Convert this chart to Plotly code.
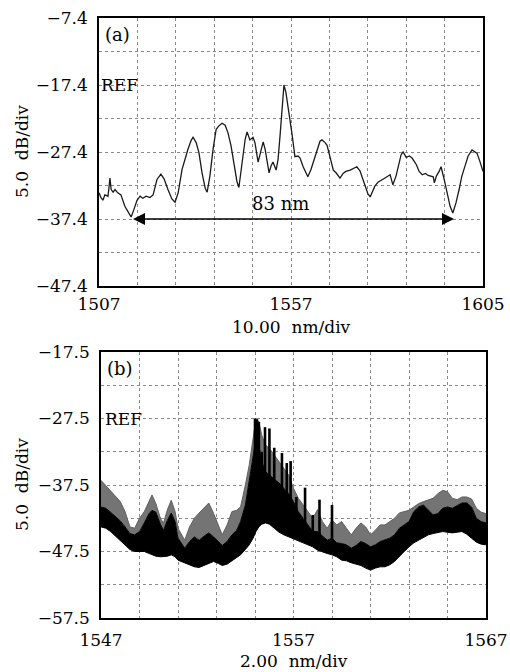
import plotly.graph_objects as go

# ---------------- Panel (a) data: wavelength (nm) and power (dB) ----------------
wl_a = [1507.0, 1507.5, 1508.0, 1508.5, 1509.3, 1509.8, 1510.1, 1510.6, 1511.1, 1511.8,
        1512.6, 1513.6, 1514.7, 1515.2, 1515.9, 1516.7, 1517.5, 1518.2, 1519.0, 1520.0,
        1520.8, 1521.8, 1522.8, 1523.6, 1524.6, 1525.6, 1526.4, 1527.2, 1528.2, 1528.9,
        1529.7, 1530.5, 1531.0, 1531.8, 1532.5, 1533.3, 1534.1, 1534.6, 1535.3, 1536.1,
        1536.9, 1537.6, 1538.4, 1539.2, 1539.9, 1540.7, 1541.5, 1542.2, 1542.7, 1543.5,
        1544.3, 1544.8, 1545.5, 1546.3, 1546.8, 1547.6, 1548.3, 1548.9, 1549.4, 1549.9,
        1550.4, 1550.9, 1551.4, 1552.2, 1552.7, 1553.2, 1553.7, 1554.2, 1554.7, 1555.2,
        1555.7, 1556.3, 1557.0, 1557.8, 1558.3, 1559.1, 1559.8, 1560.3, 1561.1, 1561.9,
        1562.6, 1563.4, 1563.9, 1564.7, 1565.2, 1566.0, 1566.8, 1567.5, 1568.0, 1568.5,
        1569.3, 1570.0, 1571.1, 1571.8, 1572.8, 1573.6, 1574.4, 1575.1, 1575.6, 1576.2,
        1576.7, 1577.4, 1578.2, 1579.2, 1580.2, 1581.3, 1582.0, 1582.8, 1583.6, 1584.1,
        1584.6, 1585.4, 1586.2, 1586.9, 1588.0, 1588.7, 1589.5, 1590.3, 1591.0, 1591.8,
        1592.3, 1592.6, 1593.1, 1593.8, 1594.3, 1595.1, 1595.8, 1596.6, 1597.3, 1598.1,
        1598.9, 1599.6, 1600.4, 1601.2, 1602.2, 1603.0, 1603.5, 1604.2, 1605.0]
db_a = [-33.5, -34.2, -34.6, -33.8, -34.0, -31.3, -33.0, -33.4, -33.0, -33.5,
        -33.8, -35.5, -36.6, -37.1, -36.0, -34.6, -34.0, -34.3, -34.0, -34.2,
        -33.8, -31.5, -30.7, -31.4, -33.0, -34.4, -34.9, -33.5, -30.0, -28.5,
        -27.0, -25.7, -25.2, -26.0, -27.5, -30.5, -32.8, -33.4, -31.0, -27.0,
        -24.0, -23.5, -23.1, -23.4, -24.5, -26.5, -29.5, -31.8, -32.7, -29.0,
        -25.5, -24.4, -25.6, -25.2, -26.0, -28.9, -27.0, -25.9, -27.0, -29.0,
        -30.5, -29.5, -28.9, -30.1, -28.5, -25.0, -21.0, -17.4, -18.5, -20.8,
        -22.5, -24.9, -28.1, -28.0, -28.3, -29.6, -30.6, -31.1, -30.0, -28.5,
        -27.0, -25.8, -25.6, -26.0, -26.4, -28.5, -30.1, -30.5, -31.0, -31.3,
        -30.6, -30.3, -30.1, -29.9, -29.6, -30.2, -31.5, -32.8, -33.6, -34.1,
        -33.4, -32.5, -31.9, -31.6, -31.2, -30.8, -32.3, -31.0, -29.0, -27.8,
        -27.4, -28.2, -28.0, -28.3, -29.3, -30.3, -30.8, -30.6, -30.9, -31.0,
        -31.1, -32.0, -31.0, -30.3, -29.6, -31.5, -33.5, -35.5, -36.5, -35.0,
        -33.0, -31.0, -29.5, -28.0, -27.1, -27.4, -27.6, -28.8, -30.3]

arrow_a = [1515.3, 1597.6]   # 83 nm span
arrow_level_a = -37.4

xgrid_a = [1507 + 9.8 * k for k in range(11)]
xtext_a = ["1507", "", "", "", "", "1557", "", "", "", "", "1605"]
ygrid_a = [-47.4, -42.4, -37.4, -32.4, -27.4, -22.4, -17.4, -12.4, -7.4]
ytext_a = ["\u221247.4", "", "\u221237.4", "", "\u221227.4", "", "\u221217.4", "", "\u22127.4"]

# ---------------- Panel (b) data ----------------
wl_b = [1547.00, 1547.25, 1547.50, 1547.75, 1548.00, 1548.25, 1548.50, 1548.75, 1549.00, 1549.25,
        1549.50, 1549.65, 1549.85, 1550.10, 1550.25, 1550.45, 1550.65, 1550.85, 1551.00, 1551.35,
        1551.60, 1551.85, 1552.10, 1552.35, 1552.60, 1552.85, 1553.10, 1553.30, 1553.55, 1553.80,
        1554.05, 1554.25, 1554.50, 1554.70, 1554.90, 1555.05, 1555.20, 1555.35, 1555.55, 1555.75,
        1556.00, 1556.25, 1556.50, 1556.75, 1557.00, 1557.25, 1557.50, 1557.75, 1558.00, 1558.25,
        1558.50, 1558.75, 1559.00, 1559.25, 1559.50, 1559.75, 1560.00, 1560.25, 1560.50, 1560.75,
        1561.00, 1561.25, 1561.50, 1561.75, 1562.00, 1562.25, 1562.50, 1562.75, 1563.00, 1563.25,
        1563.50, 1563.75, 1564.00, 1564.25, 1564.50, 1564.75, 1565.00, 1565.25, 1565.50, 1565.75,
        1566.00, 1566.25, 1566.50, 1566.75, 1567.00]
low_b = [-43.8, -44.0, -44.5, -45.2, -45.9, -46.5, -47.2, -47.5, -47.5, -47.5,
         -47.8, -48.0, -48.2, -48.3, -48.3, -48.2, -48.0, -48.3, -48.8, -49.2,
         -49.6, -49.8, -49.9, -49.6, -49.3, -49.0, -49.3, -49.6, -49.4, -48.9,
         -48.5, -48.0, -47.2, -46.5, -45.5, -44.5, -43.8, -43.4, -43.2, -43.4,
         -44.0, -44.6, -45.0, -45.3, -45.6, -45.9, -46.2, -46.5, -46.8, -47.3,
         -47.6, -47.8, -48.0, -48.3, -48.8, -48.9, -49.2, -49.4, -49.6, -50.0,
         -50.3, -50.0, -49.8, -49.8, -49.5, -49.0, -48.2, -47.5, -46.8, -46.2,
         -45.8, -45.4, -45.0, -44.8, -44.6, -44.5, -44.6, -44.7, -44.6, -44.5,
         -44.9, -45.5, -46.1, -46.4, -46.5]
core_b = [-40.8, -41.0, -41.6, -42.2, -42.9, -43.8, -44.8, -45.0, -44.5, -43.2,
          -41.8, -41.3, -41.6, -43.5, -44.3, -42.8, -41.7, -43.0, -45.5, -47.0,
          -46.0, -45.3, -45.8, -45.2, -44.7, -45.3, -46.0, -46.6, -46.0, -45.0,
          -44.3, -43.0, -40.5, -37.0, -33.5, -30.5, -31.5, -34.0, -35.5, -36.0,
          -36.5, -37.2, -38.0, -38.8, -40.0, -41.5, -42.5, -43.5, -44.5, -44.5,
          -45.2, -45.8, -45.5, -46.2, -46.3, -46.5, -47.0, -46.6, -46.0, -46.3,
          -46.8, -46.5, -46.0, -45.8, -45.5, -45.0, -44.0, -43.5, -43.0, -41.5,
          -40.8, -40.5, -41.3, -42.0, -41.8, -41.0, -40.8, -41.0, -40.6, -40.2,
          -40.2, -40.8, -42.5, -43.0, -43.2]
haze_b = [-36.8, -37.6, -38.4, -39.3, -40.0, -41.5, -43.8, -44.0, -42.5, -41.5,
          -39.8, -39.0, -40.3, -42.6, -43.2, -41.2, -39.8, -41.5, -44.0, -45.8,
          -43.8, -42.5, -41.7, -41.0, -40.2, -41.8, -43.5, -45.0, -43.5, -41.5,
          -41.3, -40.8, -37.5, -34.5, -30.5, -27.5, -28.0, -30.0, -31.5, -32.0,
          -33.0, -34.0, -35.0, -36.0, -38.0, -39.5, -40.5, -41.5, -42.5, -41.2,
          -43.0, -44.0, -42.8, -43.5, -43.0, -44.0, -45.0, -44.0, -43.2, -43.8,
          -45.0, -44.3, -43.5, -43.5, -43.0, -42.5, -41.7, -41.5, -41.3, -40.8,
          -40.3, -40.0, -39.8, -39.5, -38.8, -38.3, -38.5, -39.5, -39.7, -39.3,
          -39.3, -39.6, -41.0, -41.6, -41.8]

spike_wl = [1555.00, 1555.10, 1555.20, 1555.35, 1555.52, 1555.75, 1556.00, 1556.40,
            1556.65, 1556.85, 1557.15, 1557.60, 1558.00, 1558.35, 1559.00]
spike_top = [-27.5, -27.6, -28.0, -32.5, -28.8, -29.0, -31.9, -32.7,
             -34.2, -33.9, -39.3, -37.9, -42.0, -39.7, -40.5]
spike_base = [-43.0, -43.0, -43.0, -43.0, -43.0, -43.2, -43.6, -44.2,
              -44.8, -45.0, -45.6, -46.0, -46.5, -46.8, -47.5]

xgrid_b = [1547 + 2 * k for k in range(11)]
xtext_b = ["1547", "", "", "", "", "1557", "", "", "", "", "1567"]
ygrid_b = [-57.5, -52.5, -47.5, -42.5, -37.5, -32.5, -27.5, -22.5, -17.5]
ytext_b = ["\u221257.5", "", "\u221247.5", "", "\u221237.5", "", "\u221227.5", "", "\u221217.5"]

FONT = "DejaVu Serif"
FS = 17
W, H = 510, 672

fig = go.Figure()

# panel (a) trace
fig.add_trace(go.Scatter(x=wl_a, y=db_a, mode="lines", line=dict(color="#1a1a1a", width=1.3),
                         xaxis="x", yaxis="y", showlegend=False, hoverinfo="skip"))

# panel (b): lower envelope -> black core -> gray haze
fig.add_trace(go.Scatter(x=wl_b, y=low_b, mode="lines", line=dict(color="#000", width=1),
                         xaxis="x2", yaxis="y2", showlegend=False, hoverinfo="skip"))
fig.add_trace(go.Scatter(x=wl_b, y=core_b, mode="lines", line=dict(color="#000", width=1),
                         fill="tonexty", fillcolor="#000000",
                         xaxis="x2", yaxis="y2", showlegend=False, hoverinfo="skip"))
fig.add_trace(go.Scatter(x=wl_b, y=haze_b, mode="lines", line=dict(color="#606060", width=1),
                         fill="tonexty", fillcolor="#747474",
                         xaxis="x2", yaxis="y2", showlegend=False, hoverinfo="skip"))
sx, sy = [], []
for w, b, t in zip(spike_wl, spike_base, spike_top):
    sx += [w, w, None]
    sy += [b, t, None]
fig.add_trace(go.Scatter(x=sx, y=sy, mode="lines", line=dict(color="#000", width=2.6),
                         xaxis="x2", yaxis="y2", showlegend=False, hoverinfo="skip"))

axis_common = dict(showline=True, mirror=True, linecolor="#000", linewidth=1.5,
                   showgrid=True, gridcolor="#8a8a8a", griddash="dot", gridwidth=1,
                   ticks="", zeroline=False, tickmode="array", automargin=False,
                   tickfont=dict(family=FONT, size=FS, color="#000"))

fig.update_layout(
    template="none",
    width=W, height=H, margin=dict(l=0, r=0, t=0, b=0, autoexpand=False),
    paper_bgcolor="white", plot_bgcolor="white",
    xaxis=dict(domain=[99 / W, 483 / W], range=[1507, 1605], anchor="y",
               tickvals=xgrid_a, ticktext=xtext_a, ticklabelstandoff=2, **axis_common),
    yaxis=dict(domain=[1 - 286 / H, 1 - 18 / H], range=[-47.4, -7.4], anchor="x",
               tickvals=ygrid_a, ticktext=ytext_a, ticklabelstandoff=6, **axis_common),
    xaxis2=dict(domain=[101 / W, 486 / W], range=[1547, 1567], anchor="y2",
                tickvals=xgrid_b, ticktext=xtext_b, ticklabelstandoff=6, **axis_common),
    yaxis2=dict(domain=[1 - 618 / H, 1 - 352 / H], range=[-57.5, -17.5], anchor="x2",
                tickvals=ygrid_b, ticktext=ytext_b, ticklabelstandoff=6, **axis_common),
)

tf = dict(family=FONT, size=FS, color="#000")
tf2 = dict(family=FONT, size=18, color="#000")
ann = [
    dict(text="(a)", x=0.01, y=0.985, xref="x domain", yref="y domain", xanchor="left", yanchor="top", showarrow=False, font=tf2),
    dict(text="REF", x=0.0, y=-17.4, xref="x domain", yref="y", xanchor="left", yanchor="middle", showarrow=False, font=tf),
    dict(text="83 nm", x=(arrow_a[0] + arrow_a[1]) / 2, y=arrow_level_a, xref="x", yref="y", xanchor="center", yanchor="bottom", xshift=-12, yshift=3, showarrow=False, font=tf2),
    dict(text="(b)", x=0.01, y=0.985, xref="x2 domain", yref="y2 domain", xanchor="left", yanchor="top", showarrow=False, font=tf2),
    dict(text="REF", x=0.005, y=-27.5, xref="x2 domain", yref="y2", xanchor="left", yanchor="middle", showarrow=False, font=tf),
    dict(text="10.00  nm/div", x=0.5, y=1 - 327 / H, xref="x domain", yref="paper", xanchor="center", yanchor="middle", showarrow=False, font=tf),
    dict(text="2.00  nm/div", x=0.5, y=1 - 661 / H, xref="x2 domain", yref="paper", xanchor="center", yanchor="middle", showarrow=False, font=tf),
    dict(text="5.0  dB/div", x=22 / W, y=0.5, xref="paper", yref="y domain", xanchor="center", yanchor="middle", textangle=-90, showarrow=False, font=tf),
    dict(text="5.0  dB/div", x=22 / W, y=0.5, xref="paper", yref="y2 domain", xanchor="center", yanchor="middle", textangle=-90, showarrow=False, font=tf),
    # double-headed arrow for the 83 nm span
    dict(text="", x=arrow_a[1], y=arrow_level_a, ax=arrow_a[0], ay=arrow_level_a,
         xref="x", yref="y", axref="x", ayref="y", showarrow=True,
         arrowhead=2, startarrowhead=2, arrowside="end+start", arrowsize=1.6, startarrowsize=1.6,
         arrowwidth=1.5, arrowcolor="#000"),
]
fig.update_layout(annotations=ann)

fig.write_html("out.html")
